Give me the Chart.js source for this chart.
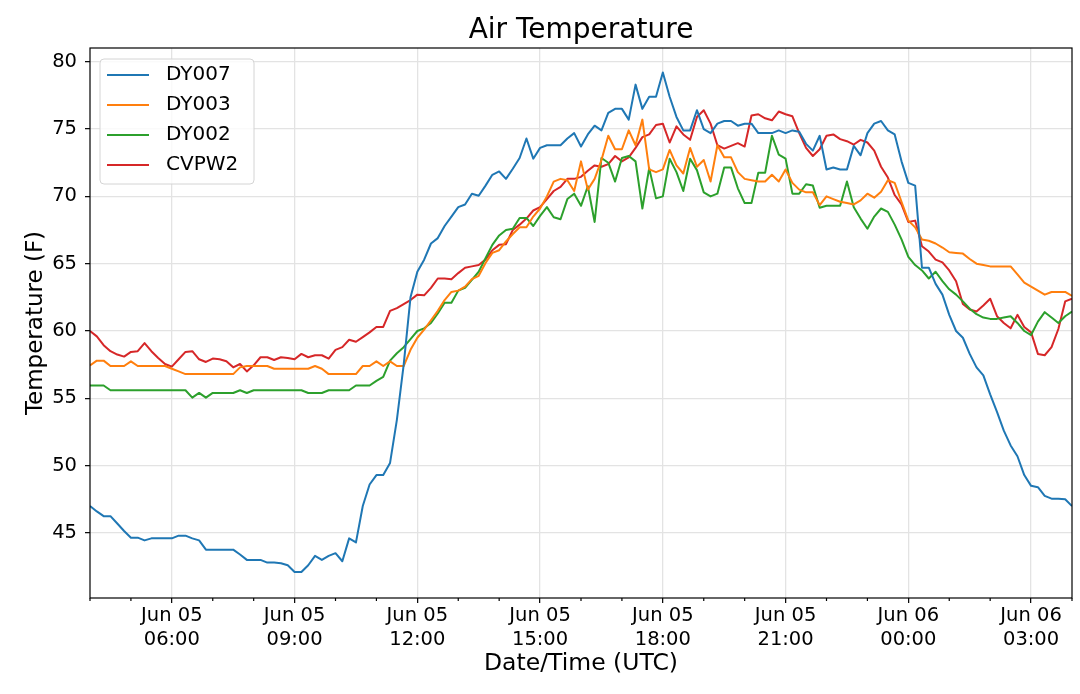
<!DOCTYPE html>
<html>
<head>
<meta charset="utf-8">
<title>Air Temperature</title>
<script src="https://cdn.jsdelivr.net/npm/chart.js@4.4.1/dist/chart.umd.min.js"></script>
<style>
  html, body { margin: 0; padding: 0; background: #fff; }
  #wrap { width: 1080px; height: 694px; }
</style>
</head>
<body>
<div id="wrap"><canvas id="airChart" width="1080" height="694"></canvas></div>
<script>
// station names and their line colours
const seriesNames = ['DY007', 'DY003', 'DY002', 'CVPW2'];
const seriesColors = ['#1f77b4', '#ff7f0e', '#2ca02c', '#d62728'];

// 10 minute readings from Jun 05 04:00 UTC to Jun 06 04:00 UTC (deg F)
const dy007 = [
  47.0, 46.6, 46.25, 46.25, 45.7, 45.15, 44.65, 44.65, 44.45, 44.6, 44.6, 44.6,
  44.6, 44.8, 44.8, 44.6, 44.45, 43.76, 43.76, 43.76, 43.76, 43.76, 43.4, 43.0,
  43.0, 43.0, 42.8, 42.8, 42.75, 42.6, 42.1, 42.1, 42.6, 43.3, 43.0, 43.3,
  43.5, 42.9, 44.6, 44.3, 47.0, 48.6, 49.3, 49.3, 50.2, 53.4, 57.5, 62.5,
  64.4, 65.3, 66.5, 66.9, 67.8, 68.5, 69.2, 69.4, 70.2, 70.05, 70.8, 71.6,
  71.85, 71.3, 72.05, 72.85, 74.3, 72.8, 73.6, 73.8, 73.8, 73.8, 74.3, 74.7,
  73.7, 74.6, 75.25, 74.9, 76.2, 76.5, 76.5, 75.7, 78.3, 76.5, 77.4, 77.4,
  79.2, 77.4, 75.9, 74.9, 74.9, 76.4, 75.0, 74.7, 75.4, 75.6, 75.6, 75.25,
  75.4, 75.4, 74.7, 74.7, 74.7, 74.9, 74.7, 74.9, 74.8, 73.9, 73.4, 74.5,
  72.0, 72.15, 72.0, 72.0, 73.75, 73.05, 74.7, 75.4, 75.6, 74.9, 74.6, 72.6,
  71.0, 70.8, 64.7, 64.7, 63.5, 62.7, 61.2, 60.0, 59.5, 58.3, 57.3, 56.7,
  55.3, 54.0, 52.6, 51.5, 50.7, 49.3, 48.5, 48.4, 47.75, 47.55, 47.55, 47.5,
  47.0
];
const dy003 = [
  57.45, 57.8, 57.8, 57.4, 57.4, 57.4, 57.75, 57.4, 57.4, 57.4, 57.4, 57.4,
  57.2, 57.0, 56.8, 56.8, 56.8, 56.8, 56.8, 56.8, 56.8, 56.8, 57.3, 57.4,
  57.4, 57.4, 57.4, 57.2, 57.2, 57.2, 57.2, 57.2, 57.2, 57.4, 57.2, 56.8,
  56.8, 56.8, 56.8, 56.8, 57.4, 57.4, 57.75, 57.4, 57.75, 57.4, 57.4, 58.6,
  59.5, 60.1, 60.8, 61.5, 62.3, 62.9, 63.0, 63.3, 63.85, 64.1, 65.05, 65.8,
  66.0, 66.65, 67.2, 67.7, 67.7, 68.5, 69.1, 70.0, 71.1, 71.3, 71.2, 70.4,
  72.6, 70.5, 71.3, 72.7, 74.5, 73.5, 73.5, 74.9, 73.8, 75.7, 72.0, 71.8,
  72.0, 73.45, 72.3, 71.7, 73.6, 72.2, 72.7, 71.1, 73.8, 72.9, 72.9, 71.8,
  71.3, 71.2, 71.1, 71.1, 71.6, 71.1, 72.0, 71.0, 70.5, 70.3, 70.3, 69.35,
  70.0, 69.8, 69.6, 69.5, 69.4, 69.7, 70.2, 69.9, 70.35, 71.2, 71.0, 69.6,
  68.2, 67.7, 66.8, 66.7, 66.5, 66.2, 65.85, 65.8, 65.75, 65.35, 65.0, 64.9,
  64.8, 64.8, 64.8, 64.8, 64.2, 63.6, 63.3, 63.0, 62.7, 62.9, 62.9, 62.9,
  62.6
];
const dy002 = [
  55.95, 55.95, 55.95, 55.6, 55.6, 55.6, 55.6, 55.6, 55.6, 55.6, 55.6, 55.6,
  55.6, 55.6, 55.6, 55.05, 55.4, 55.05, 55.4, 55.4, 55.4, 55.4, 55.6, 55.4,
  55.6, 55.6, 55.6, 55.6, 55.6, 55.6, 55.6, 55.6, 55.4, 55.4, 55.4, 55.6,
  55.6, 55.6, 55.6, 55.95, 55.95, 55.95, 56.3, 56.6, 57.8, 58.35, 58.8, 59.4,
  60.0, 60.2, 60.6, 61.3, 62.1, 62.1, 63.0, 63.2, 63.8, 64.4, 65.4, 66.4,
  67.1, 67.5, 67.6, 68.4, 68.4, 67.8, 68.55, 69.2, 68.45, 68.3, 69.8, 70.2,
  69.3, 70.75, 68.1, 72.85, 72.5, 71.1, 72.85, 73.0, 72.6, 69.1, 72.1, 69.85,
  70.0, 72.8, 71.8, 70.4, 72.8, 71.95, 70.3, 70.0, 70.2, 72.15, 72.15, 70.6,
  69.5, 69.5, 71.75, 71.75, 74.5, 73.1, 72.8, 70.2, 70.2, 70.9, 70.8, 69.15,
  69.3, 69.3, 69.3, 71.1, 69.2, 68.35, 67.6, 68.5, 69.1, 68.85, 67.9, 66.8,
  65.5, 64.9, 64.5, 63.9, 64.4, 63.7, 63.1, 62.7, 62.2, 61.65, 61.25, 61.0,
  60.9, 60.9, 61.0, 61.1, 60.6, 60.0, 59.7, 60.7, 61.4, 61.0, 60.6, 61.1,
  61.45
];
const cvpw2 = [
  60.0, 59.6, 58.95, 58.5, 58.25, 58.1, 58.45, 58.5, 59.1, 58.5, 58.0, 57.55,
  57.35, 57.9, 58.45, 58.5, 57.9, 57.7, 57.95, 57.9, 57.75, 57.3, 57.55, 57.0,
  57.45, 58.05, 58.05, 57.85, 58.05, 58.0, 57.9, 58.3, 58.05, 58.2, 58.2, 57.95,
  58.6, 58.8, 59.35, 59.2, 59.55, 59.9, 60.3, 60.3, 61.5, 61.7, 62.0, 62.3,
  62.7, 62.65, 63.2, 63.9, 63.9, 63.85, 64.3, 64.7, 64.8, 64.9, 65.3, 66.0,
  66.4, 66.45, 67.5, 67.9, 68.35, 68.95, 69.2, 69.8, 70.4, 70.7, 71.3, 71.3,
  71.45, 71.9, 72.3, 72.2, 72.4, 73.0, 72.6, 72.9, 73.6, 74.4, 74.6, 75.3,
  75.4, 74.0, 75.2, 74.6, 74.2, 75.9, 76.4, 75.4, 73.8, 73.55, 73.75, 73.95,
  73.7, 76.0, 76.1, 75.8, 75.65, 76.3, 76.1, 75.95, 74.7, 73.6, 73.0, 73.5,
  74.5, 74.6, 74.25, 74.1, 73.85, 74.2, 74.0, 73.4, 72.2, 71.4, 70.1, 69.4,
  68.1, 68.2, 66.3, 65.9, 65.3, 65.1, 64.5, 63.7, 62.0, 61.6, 61.45, 61.9,
  62.4, 61.1, 60.6, 60.2, 61.2, 60.3, 59.9, 58.3, 58.2, 58.8, 60.15, 62.2,
  62.4
];

// axis ticks (x in hours since Jun 05 00:00 UTC)
const yTicks = [45, 50, 55, 60, 65, 70, 75, 80];
const xMajorHours = [6, 9, 12, 15, 18, 21, 24, 27];
const xMinorHours = [4, 5, 7, 8, 10, 11, 13, 14, 16, 17, 19, 20, 22, 23, 25, 26, 28];

const startHour = 4;
const sampleMinutes = 10;
const sampleHours = dy007.map((_, i) => startHour + i * sampleMinutes / 60);

const FONT = 'DejaVu Sans';
const GRID = '#e3e3e3';
Chart.defaults.font.family = FONT;
Chart.defaults.color = '#000';

function hourLabel(h) {
    const day = h >= 24 ? 'Jun 06' : 'Jun 05';
    const hh = String(h % 24).padStart(2, '0');
    return [day, hh + ':00'];
}

function isMajor(ctx) {
    return ctx.tick && xMajorHours.includes(ctx.tick.value);
}

// box round the plot, short minor ticks and the legend
const framePlugin = {
    id: 'frame',
    afterDatasetsDraw(chart) {
        const { ctx, chartArea: a, scales: { x } } = chart;
        ctx.save();
        ctx.strokeStyle = '#000';
        ctx.lineWidth = 1.2;
        xMinorHours.forEach(h => {
            const px = x.getPixelForValue(h);
            ctx.beginPath();
            ctx.moveTo(px, a.bottom);
            ctx.lineTo(px, a.bottom + 3);
            ctx.stroke();
        });
        ctx.strokeRect(a.left, a.top, a.right - a.left, a.bottom - a.top);

        // legend
        const bx = a.left + 10, by = a.top + 11, bw = 154, bh = 125;
        ctx.beginPath();
        if (ctx.roundRect) ctx.roundRect(bx, by, bw, bh, 4);
        else ctx.rect(bx, by, bw, bh);
        ctx.fillStyle = 'rgba(255,255,255,0.8)';
        ctx.fill();
        ctx.strokeStyle = '#d4d4d4';
        ctx.lineWidth = 1;
        ctx.stroke();
        ctx.font = '20px "' + FONT + '"';
        ctx.textBaseline = 'middle';
        ctx.textAlign = 'left';
        chart.data.datasets.forEach((ds, i) => {
            const ly = by + 16 + i * 30;
            ctx.strokeStyle = ds.borderColor;
            ctx.lineWidth = 2;
            ctx.beginPath();
            ctx.moveTo(bx + 7, ly);
            ctx.lineTo(bx + 49, ly);
            ctx.stroke();
            ctx.fillStyle = '#000';
            ctx.fillText(ds.label, bx + 66, ly);
        });
        ctx.restore();
    }
};

const allSeries = [dy007, dy003, dy002, cvpw2];

const airChart = new Chart(document.getElementById('airChart'), {
    type: 'line',
    data: {
        datasets: allSeries.map((vals, i) => ({
            label: seriesNames[i],
            data: vals.map((v, j) => ({ x: sampleHours[j], y: v })),
            borderColor: seriesColors[i],
            backgroundColor: seriesColors[i],
            borderWidth: 2,
            borderJoinStyle: 'round',
            pointRadius: 0,
            tension: 0,
            fill: false
        }))
    },
    options: {
        responsive: false,
        animation: false,
        layout: { padding: { left: 0, right: 8, top: 0, bottom: 0 } },
        plugins: {
            legend: { display: false },
            tooltip: { enabled: false },
            title: {
                display: true,
                text: 'Air Temperature',
                fullSize: false,
                color: '#000',
                font: { family: FONT, size: 28, weight: 'normal' },
                padding: { top: 14.4, bottom: 0 }
            }
        },
        scales: {
            x: {
                type: 'linear',
                min: 4,
                max: 28,
                afterBuildTicks: s => {
                    s.ticks = xMajorHours.concat(xMinorHours).sort((a, b) => a - b).map(h => ({ value: h }));
                },
                afterFit: s => { s.height = 96; },
                ticks: {
                    autoSkip: false,
                    maxRotation: 0,
                    padding: 1,
                    font: { family: FONT, size: 19.5, lineHeight: 1.22 },
                    color: '#000',
                    callback: v => xMajorHours.includes(v) ? hourLabel(v) : ''
                },
                grid: {
                    color: ctx => isMajor(ctx) ? GRID : 'rgba(0,0,0,0)',
                    lineWidth: 1.3,
                    tickLength: 5,
                    tickWidth: 1.2,
                    tickColor: ctx => isMajor(ctx) ? '#000' : 'rgba(0,0,0,0)'
                },
                border: { display: false },
                title: {
                    display: true,
                    text: 'Date/Time (UTC)',
                    color: '#000',
                    font: { family: FONT, size: 23.5 },
                    padding: { top: 0, bottom: 16 }
                }
            },
            y: {
                min: 40.17,
                max: 81.02,
                afterBuildTicks: s => { s.ticks = yTicks.map(v => ({ value: v })); },
                afterFit: s => { s.width = 90; },
                ticks: {
                    padding: 8,
                    font: { family: FONT, size: 19.5 },
                    color: '#000',
                    callback: v => String(v)
                },
                grid: {
                    color: GRID,
                    lineWidth: 1.3,
                    tickLength: 5,
                    tickWidth: 1.2,
                    tickColor: '#000'
                },
                border: { display: false },
                title: {
                    display: true,
                    text: 'Temperature (F)',
                    color: '#000',
                    font: { family: FONT, size: 23 },
                    padding: { top: 22, bottom: 0 }
                }
            }
        }
    },
    plugins: [framePlugin]
});
</script>
</body>
</html>
